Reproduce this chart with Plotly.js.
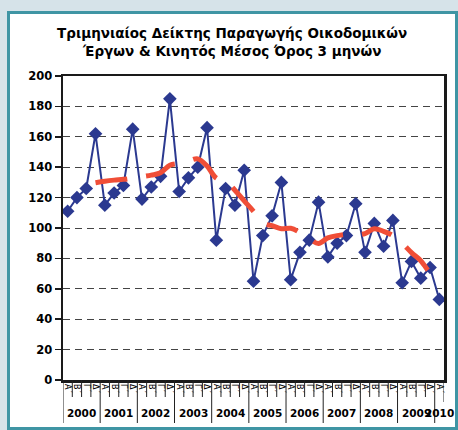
<!DOCTYPE html>
<html><head><meta charset="utf-8">
<script src="https://cdn.plot.ly/plotly-3.0.1.min.js"></script>
<style>
html,body{margin:0;padding:0;background:#d6e3e9;width:458px;height:430px;overflow:hidden}
#frame{position:absolute;left:7px;top:11px;width:445px;height:413px;border:3px solid #3f95a4;background:#fff}
#chart{position:absolute;left:0;top:0;width:458px;height:430px}
</style></head><body><div id="frame"></div><div id="chart"></div>
<script>
const years = ['2000','2001','2002','2003','2004','2005','2006','2007','2008','2009','2010'];
const quarters = ['Α΄','Β΄','Γ΄','Δ΄'];
const indexValues = [111,120,126,162, 115,123,128,165, 119,127,134,185, 124,133,140,166,
  92,126,115,138, 65,95,108,130, 66,84,92,117, 81,90,95,116, 84,103,88,105, 64,78,67,74, 53];
const movingAvg = [null,null,null,129.8, 130.8,131.5,132,132.8, 133.8,134.8,136.3,141.3,
  142.5,144,145.5,140.8, 132.8,131,124.8,117.8, 111,103.3,101.5,99.5, 99.8,97,93,89.8,
  93.5,95,95.8,95.5, 96.3,99.5,97.8,95, 90,83.8,78.5,70.8, 68];

const n = indexValues.length;
const xs = indexValues.map((_, i) => i);
const tickText = xs.map(i => quarters[i % 4]);

const plotH = 304;
const shapes = [];
for (let k = 0; k <= n; k++) {
  const isYear = (k % 4 === 0) && k < n;
  const len = isYear ? 43 : (k === n ? 22 : 17);
  shapes.push({type:'line', xref:'x', yref:'paper', x0:k-0.5, x1:k-0.5, y0:0, y1:-len/plotH,
    line:{color:'#222', width:1}});
}
const annotations = years.map((y, j) => {
  const first = j*4, last = Math.min(j*4+3, n-1);
  return {text:y, xref:'x', yref:'paper', x:(first+last)/2, y:-33/plotH, yanchor:'middle',
    showarrow:false, font:{family:'DejaVu Sans', size:10.5, weight:'bold', color:'#000'}};
});

const traces = [
  {x:xs, y:indexValues, type:'scatter', mode:'lines+markers',
   line:{color:'#2b3990', width:2},
   marker:{symbol:'diamond', size:10.5, color:'#2b3990'}, hoverinfo:'skip'},
  {x:xs, y:movingAvg, type:'scatter', mode:'lines', connectgaps:false,
   line:{color:'#f04e37', width:5, shape:'spline', dash:'32px,19px'}, hoverinfo:'skip'}
];

const layout = {
  width:458, height:430,
  paper_bgcolor:'rgba(0,0,0,0)', plot_bgcolor:'#fff',
  margin:{l:63, r:13.5, t:76, b:50},
  showlegend:false,
  title:{text:'Τριμηνιαίος Δείκτης Παραγωγής Οικοδομικών<br>Έργων & Κινητός Μέσος Όρος 3 μηνών',
    xref:'container', yref:'container', x:0.507, xanchor:'center', y:1-38/430, yanchor:'top',
    font:{family:'DejaVu Sans', size:13.5, weight:'bold', color:'#000'}},
  xaxis:{range:[-0.5, n-0.5], tickmode:'array', tickvals:xs, ticktext:tickText, tickangle:90,
    tickfont:{family:'DejaVu Sans', size:8, color:'#000'}, ticks:'', showgrid:false, zeroline:false,
    showline:true, mirror:true, linecolor:'#1a1a1a', linewidth:2.5, fixedrange:true},
  yaxis:{range:[0,200], dtick:20, tick0:0, showgrid:true, gridcolor:'#444', griddash:'7px,5px', gridwidth:1,
    zeroline:false, showline:true, mirror:true, linecolor:'#1a1a1a', linewidth:2.5,
    ticks:'outside', ticklen:6, tickwidth:1.5, tickcolor:'#1a1a1a',
    tickfont:{family:'DejaVu Sans', size:11.5, weight:'bold', color:'#000'}, fixedrange:true},
  shapes:shapes, annotations:annotations
};
Plotly.newPlot('chart', traces, layout, {staticPlot:true, displayModeBar:false});
</script></body></html>
